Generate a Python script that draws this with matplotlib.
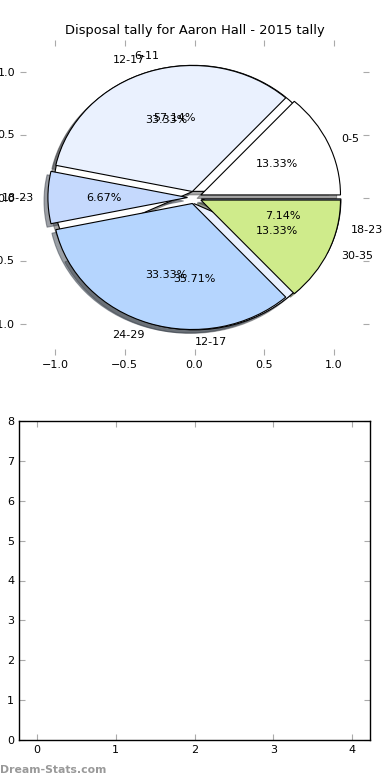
import matplotlib
matplotlib.use("Agg")
import matplotlib.pyplot as plt

# disposal tally, two seasons drawn on the same axes
labels_a = ["0-5", "12-17", "18-23", "24-29", "30-35"]
counts_a = [2, 5, 1, 5, 2]

labels_b = ["6-11", "12-17", "18-23"]
counts_b = [8, 5, 1]

colour_for = {"0-5": "#ffffff", "6-11": "#ffffff", "12-17": "#eaf1fe",
              "18-23": "#c5d9fd", "24-29": "#b5d5fe", "30-35": "#cfeb8b"}

bar_ticks_x = [0, 1, 2, 3, 4]
bar_ticks_y = [0, 1, 2, 3, 4, 5, 6, 7, 8]

plt.rcParams["font.family"] = "DejaVu Sans"
plt.rcParams["font.size"] = 8

fig = plt.figure(figsize=(3.9, 7.8), dpi=100, facecolor="white")

ax = fig.add_axes([20/390, 1-355/780, 349/390, 315/780])
wp = dict(edgecolor="black", linewidth=0.8)
ax.pie(counts_b, labels=labels_b, colors=[colour_for[l] for l in labels_b],
       explode=[0.05]*len(counts_b), autopct="%1.2f%%", shadow=True,
       wedgeprops=wp, textprops=dict(fontsize=8))
ax.pie(counts_a, labels=labels_a, colors=[colour_for[l] for l in labels_a],
       explode=[0.05]*len(counts_a), autopct="%1.2f%%", shadow=True,
       wedgeprops=wp, textprops=dict(fontsize=8))
ax.set_aspect("auto")
ax.set_xlim(-1.25, 1.25)
ax.set_ylim(-1.25, 1.25)
ax.set_frame_on(False)
ax.set_xticks([-1.0, -0.5, 0.0, 0.5, 1.0])
ax.set_yticks([-1.0, -0.5, 0.0, 0.5, 1.0])
ax.tick_params(direction="in", length=4, color="#aaaaaa", top=True, right=True, labelsize=8)
ax.set_title("Disposal tally for Aaron Hall - 2015 tally", fontsize=9.4, pad=4)

ax2 = fig.add_axes([19/390, 1-740/780, 351/390, 319/780])
ax2.set_xlim(-0.225, 4.225)
ax2.set_ylim(0, 8)
ax2.set_xticks(bar_ticks_x)
ax2.set_yticks(bar_ticks_y)
ax2.tick_params(direction="in", length=4, color="#aaaaaa", top=True, right=True, labelsize=8)
for s in ax2.spines.values():
    s.set_linewidth(1.0)

fig.text(0.0, 1-770/780, "Dream-Stats.com", color="#999999", fontsize=7.8,
         fontweight="bold", ha="left", va="center")

fig.savefig("out.png", dpi=100, facecolor="white")
